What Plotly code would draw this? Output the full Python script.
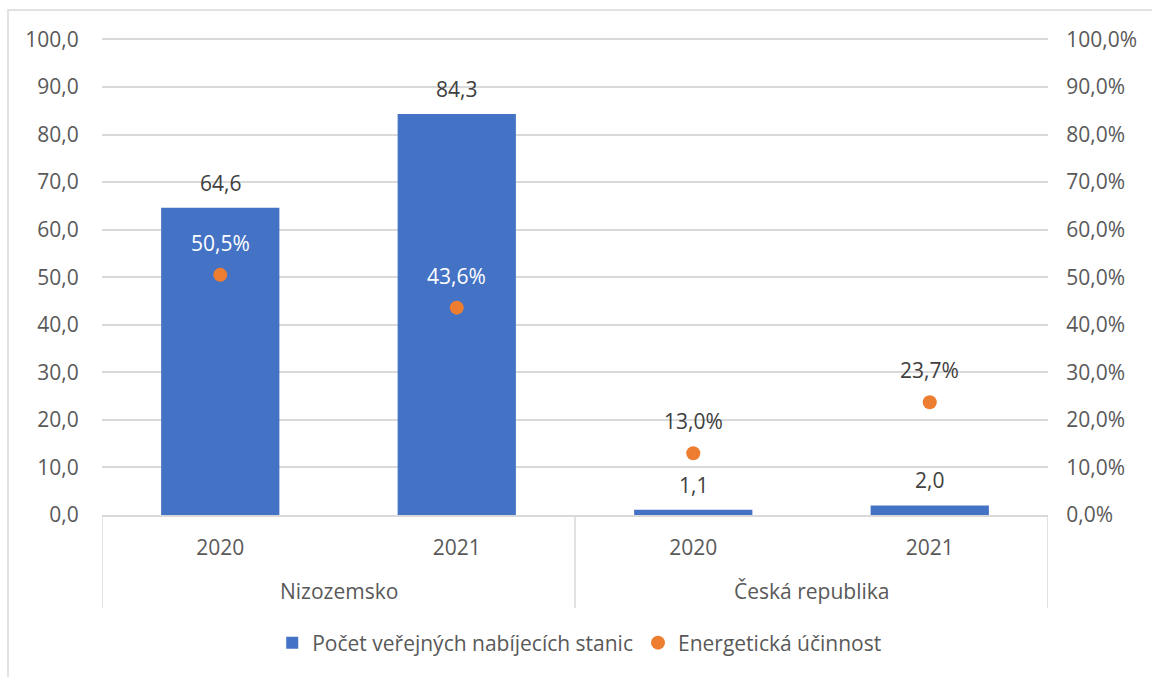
import plotly.graph_objects as go

countries = ["Nizozemsko", "Nizozemsko", "Česká republika", "Česká republika"]
years = ["2020", "2021", "2020", "2021"]
stations = [64.6, 84.3, 1.1, 2.0]
efficiency = [0.505, 0.436, 0.130, 0.237]
eff_label_colors = ["white", "white", "#404040", "#404040"]

bar_name = "Počet veřejných nabíjecích stanic"
dot_name = "Energetická účinnost"

FONT = "Open Sans"
FS = 21
TICK = "#595959"
LABEL = "#404040"
GRID = "#d9d9d9"

cats = [f"{c} {y}" for c, y in zip(countries, years)]

fig = go.Figure()
fig.add_trace(go.Bar(
    x=cats, y=stations, name=bar_name,
    marker=dict(color="#4472C4", line=dict(width=0)),
    hoverinfo="skip",
))
fig.add_trace(go.Scatter(
    x=cats, y=efficiency, name=dot_name, mode="markers",
    marker=dict(color="#ED7D31", size=14, line=dict(width=0)),
    yaxis="y2", hoverinfo="skip",
))

def fmt(v, d=1):
    return f"{v:.{d}f}".replace(".", ",")

L, R, T, B = 102, 104, 38, 162
pw, ph = 1152 - L - R, 677 - T - B

annotations = []
for i, v in enumerate(stations):
    annotations.append(dict(
        x=cats[i], y=v, xref="x", yref="y", text=fmt(v), showarrow=False,
        yshift=25, font=dict(family=FONT, size=FS, color=LABEL),
    ))
for i, v in enumerate(efficiency):
    annotations.append(dict(
        x=cats[i], y=v, xref="x", yref="y2", text=fmt(v * 100) + "%", showarrow=False,
        yshift=32, font=dict(family=FONT, size=FS, color=eff_label_colors[i]),
    ))

# group labels and dividers from the country runs
groups = []
for i, c in enumerate(countries):
    if groups and groups[-1][0] == c:
        groups[-1][2] = i
    else:
        groups.append([c, i, i])

shapes = []
bounds = set()
for c, a, b in groups:
    annotations.append(dict(
        x=(a + b) / 2, y=-(591 - 515) / ph, xref="x", yref="paper", text=c,
        showarrow=False, yanchor="middle",
        font=dict(family=FONT, size=FS, color=TICK),
    ))
    bounds.add(a - 0.5)
    bounds.add(b + 0.5)
for bx in sorted(bounds):
    shapes.append(dict(
        type="line", xref="x", yref="paper", x0=bx, x1=bx,
        y0=0, y1=-(608 - 515) / ph, line=dict(color=GRID, width=1.5),
    ))

shapes.append(dict(
    type="rect", xref="paper", yref="paper",
    x0=(8 - L) / pw, x1=(1200 - L) / pw,
    y0=(515 - 720) / ph, y1=(515 - 10) / ph,
    line=dict(color=GRID, width=1.5), fillcolor="rgba(0,0,0,0)", layer="below",
))

fig.update_layout(
    width=1152, height=677,
    margin=dict(l=L, r=R, t=T, b=B, pad=0),
    paper_bgcolor="white", plot_bgcolor="white",
    font=dict(family=FONT, size=FS, color=TICK),
    separators=", ",
    bargap=0.5,
    showlegend=True,
    legend=dict(orientation="h", x=0.505, xanchor="center", y=-(643 - 515) / ph,
                yanchor="middle", font=dict(family=FONT, size=FS, color=TICK),
                itemwidth=30, traceorder="normal"),
    xaxis=dict(
        type="category", automargin=False, showline=True, linecolor=GRID,
        linewidth=1.5, showgrid=False, zeroline=False,
        tickvals=cats, ticktext=years, range=[-0.5, len(cats) - 0.5],
        ticks="outside", ticklen=13, tickcolor="rgba(0,0,0,0)",
        tickfont=dict(family=FONT, size=FS, color=TICK),
    ),
    yaxis=dict(
        range=[0, 100.3], tickvals=list(range(0, 101, 10)), tickformat=".1f",
        automargin=False, showgrid=True,
        gridcolor=GRID, gridwidth=1.5, zeroline=False, showline=False,
        ticks="outside", ticklen=18, tickcolor="rgba(0,0,0,0)",
        tickfont=dict(family=FONT, size=FS, color=TICK),
    ),
    yaxis2=dict(
        range=[0, 1.003], tickvals=[i / 10 for i in range(11)], tickformat=".1%",
        overlaying="y", side="right", automargin=False,
        showgrid=False, zeroline=False, showline=False,
        ticks="outside", ticklen=13, tickcolor="rgba(0,0,0,0)",
        tickfont=dict(family=FONT, size=FS, color=TICK),
    ),
    annotations=annotations,
    shapes=shapes,
)

fig.write_html(
    "out.html",
    config={"displayModeBar": False},
    post_script="document.body.style.margin='0';document.body.style.overflow='hidden';",
)
